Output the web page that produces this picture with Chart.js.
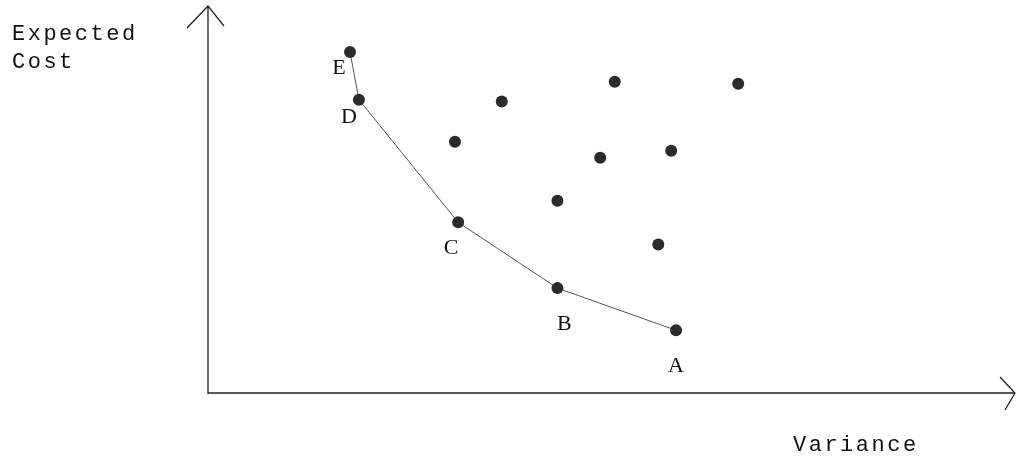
<!DOCTYPE html>
<html>
<head>
<meta charset="utf-8">
<script src="https://cdn.jsdelivr.net/npm/chart.js@4/dist/chart.umd.min.js"></script>
<style>
  html, body { margin: 0; padding: 0; background: #fff; }
  #wrap { width: 1021px; height: 456px; position: relative; }
</style>
</head>
<body>
<div id="wrap"><canvas id="frontier"></canvas></div>
<script>
// efficient frontier points (variance, expected cost)
var frontierLabels = ["E", "D", "C", "B", "A"];
var frontierX = [17.6, 18.7, 31.0, 43.3, 58.0];
var frontierY = [88.1, 75.8, 44.1, 27.1, 16.2];

// other (dominated) alternatives
var otherX = [36.4, 50.4, 65.7, 30.6, 48.6, 57.4, 43.3, 55.8];
var otherY = [75.3, 80.4, 79.9, 64.9, 60.8, 62.6, 49.7, 38.4];

var xTitle = "Variance";
var yTitle = ["Expected", "Cost"];

var frontierPts = [];
for (var i = 0; i < frontierX.length; i++)
    frontierPts.push({x: frontierX[i], y: frontierY[i]});
var otherPts = [];
for (var j = 0; j < otherX.length; j++)
    otherPts.push({x: otherX[j], y: otherY[j]});

// label offsets in px, relative to each point
var labelOffsets = [[-11, 16], [-10, 18], [-7, 26], [7, 36], [0, 36]];

const sketchPlugin = {
    id: 'sketch_axes',
    beforeDatasetsDraw: (chart) => {
        const ctx = chart.ctx;
        const {left, right, top, bottom} = chart.chartArea;
        ctx.save();
        ctx.strokeStyle = '#222';
        ctx.lineWidth = 1.3;
        ctx.beginPath();
        // y axis + arrow
        ctx.moveTo(left, bottom + 1);
        ctx.lineTo(left, top);
        ctx.moveTo(left - 21, top + 22);
        ctx.lineTo(left, top);
        ctx.lineTo(left + 16, top + 20);
        // x axis + arrow
        ctx.moveTo(left, bottom);
        ctx.lineTo(right, bottom);
        ctx.moveTo(right - 15, bottom - 16);
        ctx.lineTo(right, bottom);
        ctx.lineTo(right - 10, bottom + 17);
        ctx.stroke();

        // axis titles, typewriter look
        ctx.fillStyle = '#111';
        ctx.font = '22px "Liberation Mono"';
        ctx.letterSpacing = '2.5px';
        ctx.textBaseline = 'alphabetic';
        ctx.textAlign = 'left';
        ctx.fillText(yTitle[0], 12, 40);
        ctx.fillText(yTitle[1], 12, 68);
        ctx.fillText(xTitle, 793, 451);
        ctx.restore();
    },
    afterDatasetsDraw: (chart) => {
        const ctx = chart.ctx;
        const meta = chart.getDatasetMeta(0);
        ctx.save();
        ctx.fillStyle = '#111';
        ctx.font = '22px "Liberation Serif"';
        ctx.textAlign = 'center';
        ctx.textBaseline = 'middle';
        meta.data.forEach((pt, k) => {
            ctx.fillText(frontierLabels[k], pt.x + labelOffsets[k][0], pt.y + labelOffsets[k][1]);
        });
        ctx.restore();
    }
};

var ctx = document.getElementById("frontier").getContext('2d');
var myChart = new Chart(ctx, {
    type: 'scatter',
    data: {
        datasets: [{
            data: frontierPts,
            showLine: true,
            borderColor: '#555',
            borderWidth: 1,
            backgroundColor: '#2b2b2b',
            pointBorderColor: '#2b2b2b',
            pointRadius: 6,
            pointBorderWidth: 0
        }, {
            data: otherPts,
            showLine: false,
            backgroundColor: '#2b2b2b',
            pointBorderColor: '#2b2b2b',
            pointRadius: 6,
            pointBorderWidth: 0
        }]
    },
    options: {
        responsive: true,
        maintainAspectRatio: false,
        animation: false,
        layout: {
            padding: {left: 208, right: 1, top: 5, bottom: 63}
        },
        scales: {
            x: {
                type: 'linear', min: 0, max: 100,
                display: false
            },
            y: {
                type: 'linear', min: 0, max: 100,
                display: false
            }
        },
        plugins: {
            legend: {display: false},
            tooltip: {enabled: false}
        }
    },
    plugins: [sketchPlugin]
});
</script>
</body>
</html>
